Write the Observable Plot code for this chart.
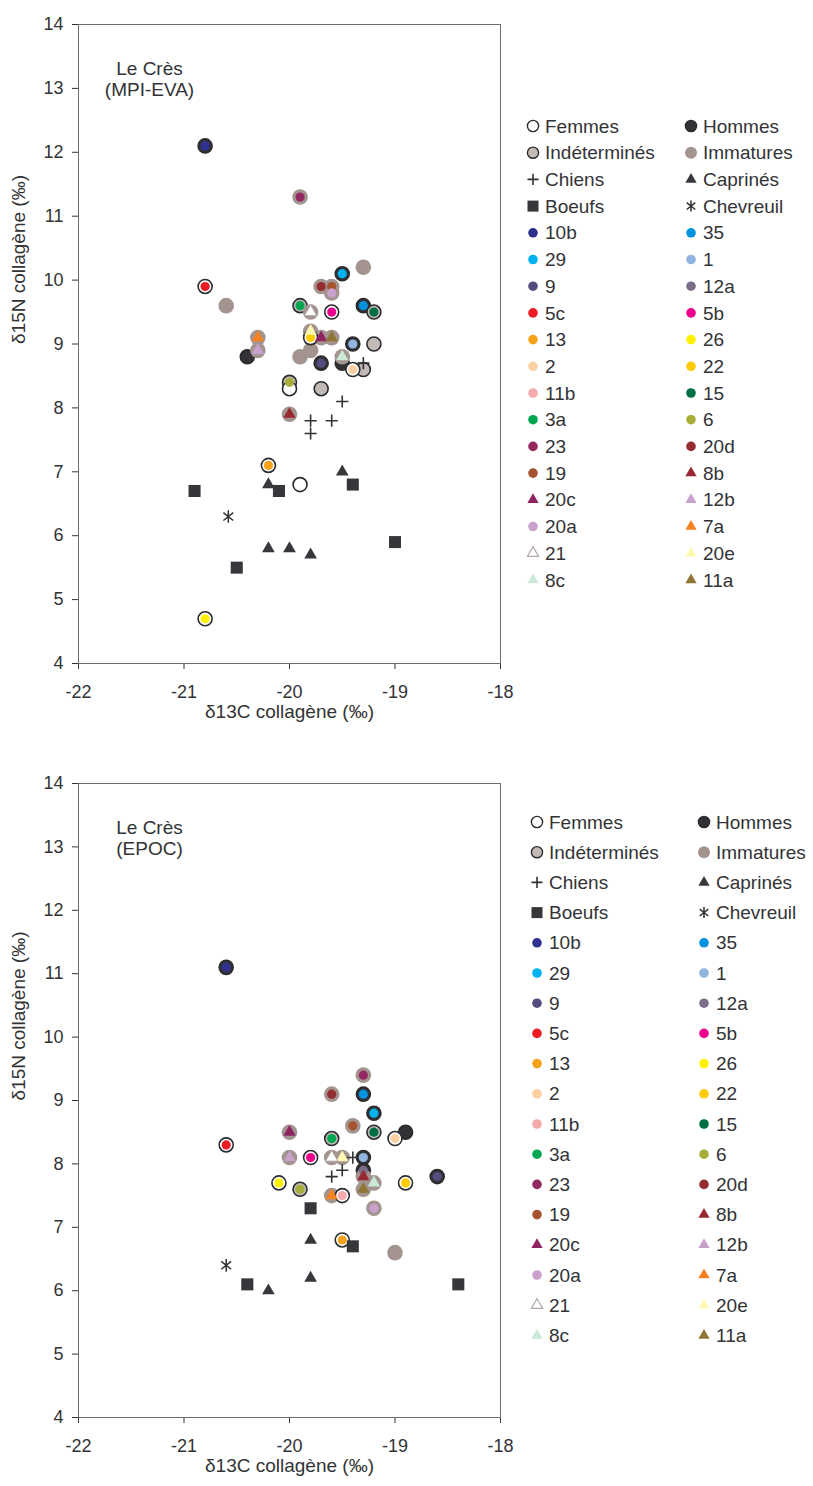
<!DOCTYPE html>
<html><head><meta charset="utf-8">
<script src="https://cdn.jsdelivr.net/npm/d3@7"></script>
<script src="https://cdn.jsdelivr.net/npm/@observablehq/plot@0.6"></script>
<style>
body{margin:0;background:#fff;}
#wrap{width:813px;}
#wrap svg{display:block;}
</style></head><body><div id="wrap"></div>
<script>
// ---------- categories & legend ----------
const baseCats = ["Femmes","Hommes","Indéterminés","Immatures"];
const faunaCats = ["Chiens","Caprinés","Boeufs","Chevreuil"];
const ids = ["10b","35","29","1","9","12a","5c","5b","13","26","2","22","11b","15","3a","6","23","20d","19","8b","20c","12b","20a","7a","21","20e","8c","11a"];
const idColors = ["#2e3192","#0093dd","#00b2ef","#92b4e0","#524d7c","#7b6e88","#ed1c24","#ec008c","#f7a21b","#fff200","#fdd0a2","#ffcb05","#f5abab","#006f45","#00a651","#a8ad3a","#92285f","#942d31","#a5532f","#982932","#8e2460","#c8a1cc","#c9a1cc","#f58220","#ffffff","#fff8b0","#cce8d6","#8e7634"];
const idShapes = ["circle","circle","circle","circle","circle","circle","circle","circle","circle","circle","circle","circle","circle","circle","circle","circle","circle","circle","circle","triangle","triangle","triangle","circle","triangle","triangle","triangle","triangle","triangle"];
const xTicks = [-22,-21,-20,-19,-18];
const yTicks = [4,5,6,7,8,9,10,11,12,13,14];
const xLabel = "δ13C collagène (‰)";
const yLabel = "δ15N collagène (‰)";

// ---------- Le Crès (MPI-EVA) ----------
const mpiTitle = "Le Crès\n(MPI-EVA)";
const mpiId = ["10b","23","5c","","29","","20d","19","20a","3a","21","5b","35","15","20e","22","20c","11a","7a","12b","","","","9","8c","","1","","2","","6","","","8b","13","","26"];
const mpiBase = ["Hommes","Immatures","Femmes","Immatures","Hommes","Immatures","Immatures","Immatures","Immatures","Indéterminés","Immatures","Femmes","Hommes","Indéterminés","Immatures","Femmes","Immatures","Immatures","Immatures","Immatures","Hommes","Immatures","Immatures","Hommes","Immatures","Hommes","Hommes","Indéterminés","Femmes","Indéterminés","Indéterminés","Femmes","Indéterminés","Immatures","Femmes","Femmes","Femmes"];
const mpiC = [-20.8,-19.9,-20.8,-20.6,-19.5,-19.3,-19.7,-19.6,-19.6,-19.9,-19.8,-19.6,-19.3,-19.2,-19.8,-19.8,-19.7,-19.6,-20.3,-20.3,-20.4,-19.9,-19.8,-19.7,-19.5,-19.5,-19.4,-19.2,-19.4,-19.3,-20.0,-20.0,-19.7,-20.0,-20.2,-19.9,-20.8];
const mpiN = [12.1,11.3,9.9,9.6,10.1,10.2,9.9,9.9,9.8,9.6,9.5,9.5,9.6,9.5,9.2,9.1,9.1,9.1,9.1,8.9,8.8,8.8,8.9,8.7,8.8,8.7,9.0,9.0,8.6,8.6,8.4,8.3,8.3,7.9,7.1,6.8,4.7];
const mpiFaunaType = ["Chiens","Chiens","Chiens","Chiens","Chiens","Caprinés","Caprinés","Caprinés","Caprinés","Caprinés","Boeufs","Boeufs","Boeufs","Boeufs","Boeufs","Chevreuil"];
const mpiFaunaC = [-19.3,-19.5,-19.8,-19.6,-19.8,-20.2,-19.5,-20.2,-20.0,-19.8,-20.9,-20.1,-19.4,-19.0,-20.5,-20.58];
const mpiFaunaN = [8.7,8.1,7.8,7.8,7.6,6.8,7.0,5.8,5.8,5.7,6.7,6.7,6.8,5.9,5.5,6.3];

// ---------- Le Crès (EPOC) ----------
const epocTitle = "Le Crès\n(EPOC)";
const epocId = ["10b","23","20d","35","29","19","15","","2","20c","3a","5c","12b","5b","21","20e","1","12a","8b","8c","11a","22","9","26","6","7a","11b","20a","13",""];
const epocBase = ["Hommes","Immatures","Immatures","Hommes","Hommes","Immatures","Indéterminés","Hommes","Femmes","Immatures","Indéterminés","Femmes","Immatures","Femmes","Immatures","Immatures","Hommes","Hommes","Immatures","Immatures","Immatures","Femmes","Hommes","Femmes","Indéterminés","Immatures","Femmes","Immatures","Femmes","Immatures"];
const epocC = [-20.6,-19.3,-19.6,-19.3,-19.2,-19.4,-19.2,-18.9,-19.0,-20.0,-19.6,-20.6,-20.0,-19.8,-19.6,-19.5,-19.3,-19.3,-19.3,-19.2,-19.3,-18.9,-18.6,-20.1,-19.9,-19.6,-19.5,-19.2,-19.5,-19.0];
const epocN = [11.1,9.4,9.1,9.1,8.8,8.6,8.5,8.5,8.4,8.5,8.4,8.3,8.1,8.1,8.1,8.1,8.1,7.9,7.8,7.7,7.6,7.7,7.8,7.7,7.6,7.5,7.5,7.3,6.8,6.6];
const epocFaunaType = ["Chiens","Chiens","Chiens","Caprinés","Caprinés","Caprinés","Boeufs","Boeufs","Boeufs","Boeufs","Chevreuil"];
const epocFaunaC = [-19.4,-19.5,-19.6,-19.8,-19.8,-20.2,-19.8,-19.4,-20.4,-18.4,-20.6];
const epocFaunaN = [8.1,7.9,7.8,6.8,6.2,6.0,7.3,6.7,6.1,6.1,6.4];

// ---------- styles ----------
const FONT = '"Liberation Sans", Arial, Helvetica, sans-serif';
const INK = "#333336";
// star of a vertical bar and an X (like the reference's roe-deer mark)
const starSymbol = {
  draw(ctx, size) {
    const r = Math.sqrt(size / Math.PI);
    const a = r * 0.78;
    ctx.moveTo(0, -r); ctx.lineTo(0, r);
    ctx.moveTo(-a, -a * 0.8); ctx.lineTo(a, a * 0.8);
    ctx.moveTo(-a, a * 0.8); ctx.lineTo(a, -a * 0.8);
  }
};
const baseStyle = {
  "Femmes": {fill:"#ffffff", stroke:"#2b2b2e", r:7},
  "Hommes": {fill:"#323236", stroke:"#2b2b2e", r:7},
  "Indéterminés": {fill:"#c2bab7", stroke:"#2b2b2e", r:7},
  "Immatures": {fill:"#a3948f", stroke:"none", r:7.8}
};
const faunaStyle = {
  "Chiens": {symbol:"plus", r:4, fill:"none", stroke:"#333336", strokeWidth:1.6},
  "Caprinés": {symbol:"triangle", r:4.7, fill:"#37373b", stroke:"none"},
  "Boeufs": {symbol:"square", r:6.8, fill:"#37373b", stroke:"none"},
  "Chevreuil": {symbol:starSymbol, r:6.3, fill:"none", stroke:"#333336", strokeWidth:1.5}
};
const d3sym = {plus:d3.symbolPlus, triangle:d3.symbolTriangle, square:d3.symbolSquare};

function makeChart(o) {
  const humans = o.hId.map((id, i) => ({id, base:o.hBase[i], c:o.hC[i], n:o.hN[i]}));
  const fauna = o.fType.map((t, i) => ({type:t, c:o.fC[i], n:o.fN[i]}));
  const tagged = d3.sort(humans.filter(d => d.id), d => ids.indexOf(d.id));
  const marks = [Plot.frame({stroke:"#6e6e6e"})];
  for (const b of ["Hommes","Indéterminés","Immatures","Femmes"]) {
    const s = baseStyle[b];
    marks.push(Plot.dot(humans.filter(d => d.base === b), {x:"c", y:"n", r:s.r, fill:s.fill, stroke:s.stroke, strokeWidth:1.6}));
  }
  for (const t of faunaCats) {
    const s = faunaStyle[t];
    marks.push(Plot.dot(fauna.filter(d => d.type === t), {x:"c", y:"n", symbol:s.symbol, r:s.r, fill:s.fill, stroke:s.stroke, strokeWidth:s.strokeWidth || 1}));
  }
  marks.push(Plot.dot(tagged, {x:"c", y:"n", r:4.6, fill:"id", symbol:"id"}));
  marks.push(Plot.dot(tagged.filter(d => d.id === "21"), {x:"c", y:"n", r:4.6, symbol:"triangle", fill:"none", stroke:"#b3aaa7", strokeWidth:1}));
  marks.push(Plot.text([o.title], {text:d => d, frameAnchor:"top-left", dx:71, dy:54, textAnchor:"middle", lineAnchor:"middle", lineHeight:1.1, fontSize:19, fill:INK}));
  marks.push(Plot.text([xLabel], {text:d => d, frameAnchor:"bottom", dy:54, fontSize:19, fill:INK}));
  marks.push(Plot.text([yLabel], {text:d => d, frameAnchor:"left", dx:-60, rotate:-90, fontSize:19, fill:INK}));

  const svg = Plot.plot({
    width:813, height:o.height,
    marginLeft:78, marginRight:313, marginTop:o.marginTop, marginBottom:o.marginBottom,
    style:{fontFamily:FONT, fontSize:"18px", color:INK, background:"#fff", overflow:"visible"},
    x:{domain:[-22,-18], ticks:xTicks, tickSize:6, tickPadding:16, tickFormat:d => String(d), label:null},
    y:{domain:[4,14], ticks:yTicks, tickSize:6, tickPadding:9, tickFormat:d => String(d), label:null},
    color:{type:"ordinal", domain:ids, range:idColors},
    symbol:{domain:ids, range:idShapes},
    marks
  });

  // legend
  const labels = [...baseCats, ...faunaCats, ...ids];
  const g = d3.select(svg).append("g").attr("font-family", FONT).attr("font-size", 19)
    .attr("fill", INK).attr("text-anchor", "start");
  labels.forEach((lab, i) => {
    const cx = o.legendX[i % 2], cy = o.legendY0 + Math.floor(i / 2) * o.legendDy;
    if (baseCats.includes(lab)) {
      const s = baseStyle[lab];
      g.append("circle").attr("cx", cx).attr("cy", cy).attr("r", lab === "Immatures" ? 6 : 5.6).attr("fill", s.fill)
        .attr("stroke", s.stroke).attr("stroke-width", 1.4);
    } else if (faunaCats.includes(lab)) {
      const s = faunaStyle[lab];
      const size = {Chiens:42, Caprinés:55, Boeufs:121, Chevreuil:95}[lab];
      const type = lab === "Chevreuil" ? starSymbol : d3sym[s.symbol];
      g.append("path").attr("d", d3.symbol(type, size)()).attr("transform", `translate(${cx},${cy})`)
        .attr("fill", s.fill).attr("stroke", s.stroke).attr("stroke-width", s.strokeWidth || 1);
    } else {
      const k = ids.indexOf(lab);
      if (idShapes[k] === "triangle") {
        const isOpen = lab === "21";
        g.append("path").attr("d", d3.symbol(d3.symbolTriangle, 55)()).attr("transform", `translate(${cx},${cy})`)
          .attr("fill", idColors[k]).attr("stroke", isOpen ? "#b3aaa7" : "none").attr("stroke-width", 1.2);
      } else {
        g.append("circle").attr("cx", cx).attr("cy", cy).attr("r", 4.8).attr("fill", idColors[k]);
      }
    }
    g.append("text").attr("x", cx + 12).attr("y", cy).attr("dy", "0.35em").text(lab);
  });
  return svg;
}

const wrap = document.getElementById("wrap");
wrap.appendChild(makeChart({title:mpiTitle, hId:mpiId, hBase:mpiBase, hC:mpiC, hN:mpiN,
  fType:mpiFaunaType, fC:mpiFaunaC, fN:mpiFaunaN, height:740, marginTop:24, marginBottom:77,
  legendX:[533, 691], legendY0:126, legendDy:26.7}));
wrap.appendChild(makeChart({title:epocTitle, hId:epocId, hBase:epocBase, hC:epocC, hN:epocN,
  fType:epocFaunaType, fC:epocFaunaC, fN:epocFaunaN, height:746, marginTop:43, marginBottom:69,
  legendX:[537, 704], legendY0:82, legendDy:30.2}));
</script></body></html>
